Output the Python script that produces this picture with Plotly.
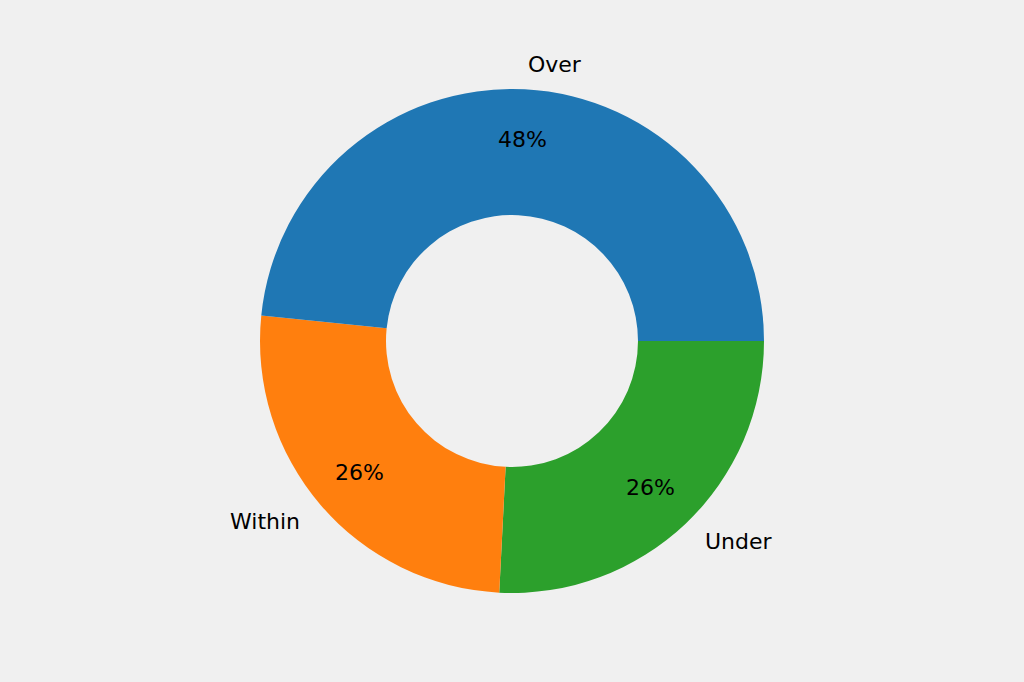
import numpy as np
import plotly.graph_objects as go

# donut data (matplotlib order: counterclockwise from 3 o'clock)
labels = ['Over', 'Within', 'Under']
counts = [15, 8, 8]
colors = ['#1f77b4', '#ff7f0e', '#2ca02c']

W, H = 1024, 682
R = 252  # pie radius in px

# plotly draws clockwise from 3 o'clock here, so feed the slices reversed
fig = go.Figure(go.Pie(
    labels=labels[::-1], values=counts[::-1],
    marker=dict(colors=colors[::-1], line=dict(width=0)),
    hole=0.5, sort=False, direction='clockwise', rotation=90,
    textinfo='none', hoverinfo='label+percent', showlegend=False,
    domain=dict(x=[0, 1], y=[(H / 2 - R) / H, (H / 2 + R) / H]),
))

# labels outside at 1.1 R, percents at 0.8 R (matplotlib style)
fracs = np.array(counts) / sum(counts)
starts = np.concatenate([[0], np.cumsum(fracs)[:-1]])
mids = (starts + fracs / 2) * 2 * np.pi
font = dict(family='DejaVu Sans, sans-serif', size=22, color='black')
for lab, f, a in zip(labels, fracs, mids):
    cx, cy = np.cos(a), np.sin(a)
    fig.add_annotation(x=0.5 + 1.1 * R * cx / W, y=0.5 + 1.1 * R * cy / H,
                       xref='paper', yref='paper', text=lab, showarrow=False,
                       xanchor='left' if cx > 0 else 'right', yanchor='middle', font=font)
    fig.add_annotation(x=0.5 + 0.8 * R * cx / W, y=0.5 + 0.8 * R * cy / H,
                       xref='paper', yref='paper', text=f'{f:.0%}', showarrow=False,
                       xanchor='center', yanchor='middle', font=font)

fig.update_layout(width=W, height=H, margin=dict(l=0, r=0, t=0, b=0),
                  paper_bgcolor='#f0f0f0', plot_bgcolor='#f0f0f0')

# drop the default page margin so the figure fills the window
fig.write_html('out.html', config={'displayModeBar': False},
               post_script="document.body.style.margin='0';")
